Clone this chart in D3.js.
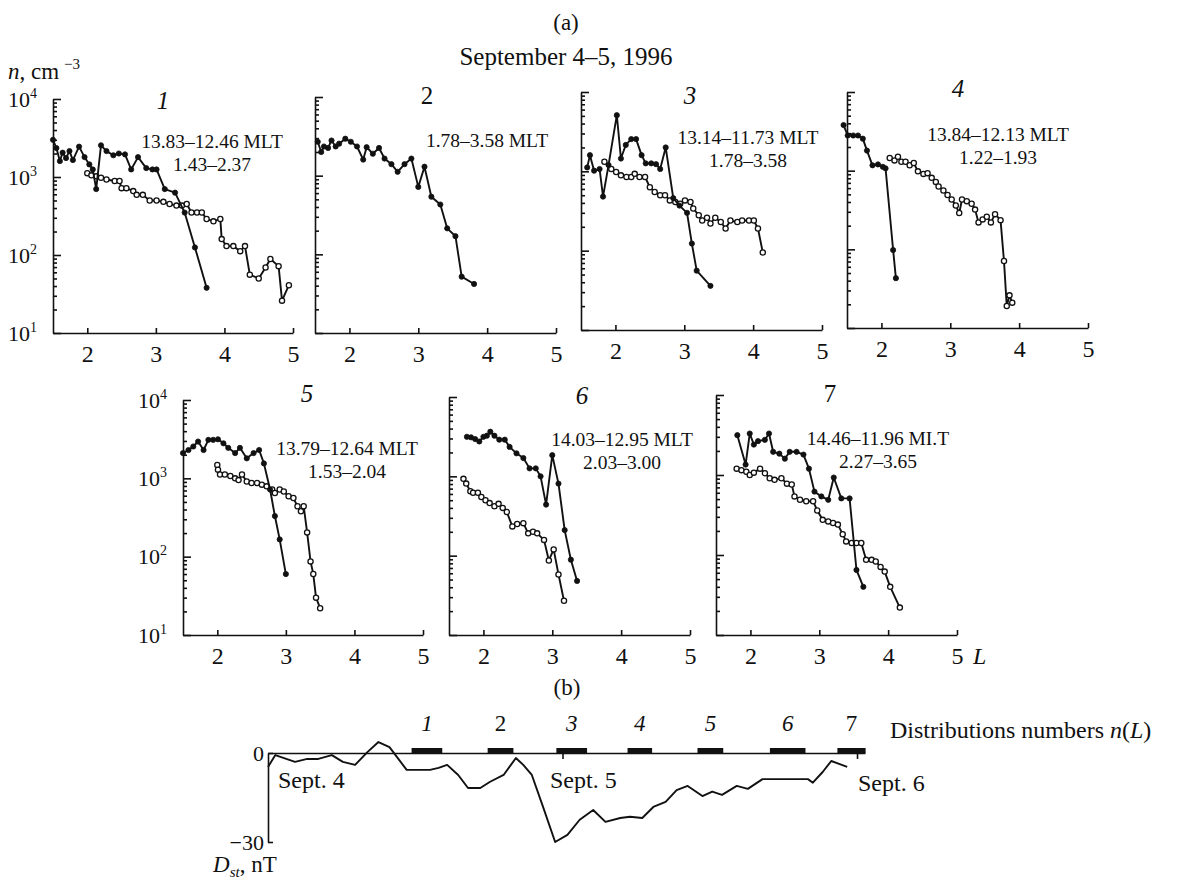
<!DOCTYPE html>
<html>
<head>
<meta charset="utf-8">
<script src="https://cdn.jsdelivr.net/npm/d3@7"></script>
<style>
  body { margin: 0; background: #fff; }
  svg { font-family: "Liberation Serif", "Times New Roman", serif; }
  .axis path, .axis line { stroke: #111; stroke-width: 1.6; }
  .axis text { font-size: 23px; fill: #111; font-family: "Liberation Serif", serif; }
  text { fill: #111; }
</style>
</head>
<body>
<svg id="fig" width="1196" height="888"></svg>
<script>
// ---- data: [L, n (cm^-3)] ----
const p1Filled = [[1.50,3000],[1.55,2350],[1.60,1600],[1.64,2050],[1.69,1750],[1.74,2150],[1.79,1650],[1.88,2450],[1.96,1800],[2.03,1450],[2.08,1250],[2.13,700],[2.20,2550],[2.28,2150],[2.38,1900],[2.46,2000],[2.55,1950],[2.64,1250],[2.74,1800],[2.86,1300],[2.95,1250],[3.01,1250],[3.13,700],[3.28,630],[3.42,350],[3.57,125],[3.74,38]];
const p1Open = [[2.00,1120],[2.06,1050],[2.13,1020],[2.20,980],[2.28,930],[2.40,890],[2.47,890],[2.50,720],[2.57,720],[2.67,660],[2.72,590],[2.81,590],[2.91,500],[3.01,500],[3.11,480],[3.20,450],[3.30,430],[3.38,430],[3.45,450],[3.52,350],[3.60,350],[3.67,350],[3.74,290],[3.84,270],[3.94,290],[3.96,160],[4.03,130],[4.13,130],[4.23,112],[4.30,130],[4.37,56],[4.50,50],[4.60,69],[4.67,89],[4.79,72],[4.84,26],[4.94,41]];
const p2Filled = [[1.54,2700],[1.59,2000],[1.63,2350],[1.69,2250],[1.74,2800],[1.80,2350],[1.85,2550],[1.94,2950],[2.02,2700],[2.11,2350],[2.20,1600],[2.25,2300],[2.34,1900],[2.43,2250],[2.51,1650],[2.61,1400],[2.70,1120],[2.80,1400],[2.90,1650],[3.00,720],[3.09,1300],[3.19,540],[3.32,430],[3.42,214],[3.54,170],[3.63,52],[3.81,42]];
const p3Filled = [[1.59,1120],[1.63,1600],[1.69,1020],[1.77,1070],[1.82,480],[1.90,1200],[2.02,5100],[2.08,1450],[2.15,2150],[2.23,2550],[2.30,2550],[2.38,1600],[2.44,1260],[2.52,1260],[2.59,1230],[2.65,1070],[2.73,2000],[2.84,460],[2.93,370],[3.04,300],[3.11,123],[3.18,56],[3.38,36]];
const p3Open = [[1.84,1320],[1.94,1070],[2.01,980],[2.08,890],[2.16,850],[2.23,850],[2.28,930],[2.35,850],[2.43,850],[2.50,630],[2.57,550],[2.65,500],[2.72,500],[2.79,430],[2.87,410],[2.94,390],[3.01,430],[3.09,410],[3.13,340],[3.21,280],[3.26,240],[3.33,260],[3.38,220],[3.45,260],[3.53,230],[3.60,190],[3.67,240],[3.77,230],[3.84,240],[3.94,240],[4.01,240],[4.07,190],[4.14,95]];
const p4Filled = [[1.45,3800],[1.51,2800],[1.59,2800],[1.66,2800],[1.73,2550],[1.79,1800],[1.87,1170],[1.95,1200],[2.02,1120],[2.06,1070],[2.17,98],[2.21,43]];
const p4Open = [[2.12,1450],[2.19,1350],[2.24,1500],[2.29,1300],[2.35,1300],[2.41,1170],[2.47,1250],[2.53,980],[2.61,910],[2.67,930],[2.73,810],[2.79,720],[2.83,630],[2.90,560],[2.96,490],[3.02,430],[3.08,360],[3.13,290],[3.17,430],[3.24,410],[3.31,380],[3.36,320],[3.41,220],[3.47,240],[3.53,260],[3.59,220],[3.65,280],[3.73,235],[3.78,71],[3.82,19],[3.86,26],[3.90,21]];
const p5Filled = [[1.50,2100],[1.58,2300],[1.65,2550],[1.72,2950],[1.80,2300],[1.87,3100],[1.94,3100],[2.01,3150],[2.09,2800],[2.16,2450],[2.26,2100],[2.33,2450],[2.43,1800],[2.53,2100],[2.61,2300],[2.68,1550],[2.77,720],[2.84,330],[2.91,166],[3.00,60]];
const p5Open = [[2.00,1480],[2.01,1290],[2.04,1120],[2.11,1120],[2.19,1070],[2.26,1000],[2.31,950],[2.36,1120],[2.43,910],[2.50,870],[2.58,870],[2.65,830],[2.72,790],[2.80,720],[2.84,650],[2.91,720],[2.97,680],[3.04,590],[3.11,560],[3.17,440],[3.22,380],[3.26,440],[3.31,204],[3.36,87],[3.40,60],[3.44,30],[3.50,22]];
const p6Filled = [[1.76,3150],[1.82,3100],[1.88,2950],[1.94,2750],[2.00,3150],[2.05,3250],[2.10,3650],[2.16,3250],[2.23,2900],[2.31,2900],[2.38,2350],[2.48,1950],[2.58,1700],[2.67,1260],[2.76,1260],[2.83,1000],[2.91,440],[3.00,1850],[3.09,810],[3.18,210],[3.27,89],[3.36,48]];
const p6Open = [[1.71,930],[1.75,810],[1.81,650],[1.85,620],[1.92,620],[1.97,550],[2.03,500],[2.09,460],[2.16,420],[2.22,450],[2.28,400],[2.34,355],[2.42,234],[2.49,251],[2.58,257],[2.65,191],[2.72,200],[2.78,191],[2.88,158],[2.95,87],[3.02,120],[3.09,58],[3.17,27]];
const p7Filled = [[1.81,3150],[1.93,1350],[1.99,3300],[2.05,2400],[2.11,2650],[2.21,2750],[2.27,3300],[2.33,1950],[2.42,1850],[2.50,1600],[2.57,1950],[2.67,1950],[2.77,1800],[2.85,1200],[2.93,620],[3.03,540],[3.13,490],[3.21,930],[3.32,510],[3.44,510],[3.54,65],[3.64,40]];
const p7Open = [[1.80,1200],[1.87,1150],[1.94,1100],[1.99,1000],[2.05,1070],[2.14,1200],[2.21,1050],[2.28,910],[2.35,870],[2.45,910],[2.53,780],[2.60,760],[2.64,540],[2.72,490],[2.81,470],[2.91,470],[2.97,360],[3.05,275],[3.13,263],[3.20,251],[3.27,240],[3.34,182],[3.39,148],[3.47,141],[3.54,141],[3.61,141],[3.68,87],[3.76,87],[3.82,83],[3.89,71],[3.95,62],[4.03,40],[4.17,22]];

const panelNumbers = ['1','2','3','4','5','6','7'];
const mltLabels = ['13.83–12.46 MLT','1.78–3.58 MLT','13.14–11.73 MLT','13.84–12.13 MLT','13.79–12.64 MLT','14.03–12.95 MLT','14.46–11.96 MI.T'];
const lLabels = ['1.43–2.37','','1.78–3.58','1.22–1.93','1.53–2.04','2.03–3.00','2.27–3.65'];
const xTicks = [2,3,4,5];
const yMajor = [10,100,1000,10000];

// Dst, hours from Sept 4 00 UT, nT
const dst = [[0,-4.7],[0.6,-0.7],[2.2,-3],[3.2,-2],[4.1,-2],[5.2,-0.7],[6.1,-3],[7.1,-4],[8.1,0.3],[9.0,3.7],[9.9,2],[10.5,-1.3],[11.3,-5.7],[13.2,-5.7],[13.9,-5],[14.6,-4],[15.5,-7.4],[16.3,-11.8],[17.3,-11.8],[18.1,-9.7],[19.2,-7.4],[20.2,-1.7],[20.8,-4],[21.5,-7.4],[22.4,-18],[23.4,-30],[24.4,-27.6],[25.4,-22.5],[26.5,-19.2],[27.5,-23.2],[28.7,-21.9],[29.5,-21.5],[30.5,-21.9],[31.4,-18.2],[32.4,-16.5],[33.3,-12.5],[34.2,-11.1],[35.4,-14.5],[36.2,-13],[37.0,-14.1],[38.2,-11.1],[39.1,-12.1],[40.3,-8.8],[44.0,-8.8],[44.4,-10],[45.2,-6.4],[45.9,-2.7],[47.2,-4.7]];
const intervals = [[11.7,14.2],[17.9,20.0],[23.5,26.0],[29.3,31.3],[35.0,37.1],[40.9,43.8],[46.4,48.7]];
const dayTicks = [24,48];
const dstTicks = [0,-30];

const filledSets = [p1Filled,p2Filled,p3Filled,p4Filled,p5Filled,p6Filled,p7Filled];
const openSets = [p1Open,null,p3Open,p4Open,p5Open,p6Open,p7Open];

// ---- layout ----
const layout = [
  {left:53,  right:293,  top:99,  bottom:333, yLabels:true,  num:[163,100], note:[212,141], upright:false},
  {left:315, right:556,  top:97,  bottom:333, yLabels:false, num:[427,95],  note:[487,140], upright:true},
  {left:581, right:822,  top:92,  bottom:330, yLabels:false, num:[690,95],  note:[748,137], upright:false},
  {left:847, right:1088, top:92,  bottom:328, yLabels:false, num:[958,88],  note:[998,134], upright:false},
  {left:183, right:423,  top:400, bottom:635, yLabels:true,  num:[307,393], note:[347,448], upright:false},
  {left:449, right:690,  top:397, bottom:635, yLabels:false, num:[582,395], note:[622,439], upright:false},
  {left:716, right:957,  top:395, bottom:635, yLabels:false, num:[830,393], note:[878,438], upright:true, lLabel:true}
];

const svg = d3.select('#fig');
const ink = '#111';

const yMinor = [];
[10,100,1000].forEach(dec => { for (let k = 2; k <= 9; k++) yMinor.push(dec * k); });

svg.append('text').attr('x', 566).attr('y', 22).attr('text-anchor','middle')
  .attr('dominant-baseline','central').style('font-size','23px').text('(a)');
svg.append('text').attr('x', 566).attr('y', 56).attr('text-anchor','middle')
  .attr('dominant-baseline','central').style('font-size','25px').text('September 4–5, 1996');

const unit = svg.append('text').attr('x', 8).attr('y', 79).style('font-size','23px');
unit.append('tspan').style('font-style','italic').text('n');
unit.append('tspan').text(', cm');
unit.append('tspan').attr('dx', 5).attr('dy', -10).style('font-size','15px').text('−3');

layout.forEach((lay, i) => {
  const x = d3.scaleLinear().domain([1.5, 5]).range([lay.left, lay.right]);
  const y = d3.scaleLog().domain([10, 10000]).range([lay.bottom, lay.top]);
  const g = svg.append('g');

  g.append('g').attr('class','axis').attr('transform', `translate(${lay.left},0)`)
    .call(d3.axisLeft(y).tickValues(yMinor).tickSizeInner(-4).tickSizeOuter(0).tickFormat(''))
    .call(a => a.select('.domain').remove());

  const yAx = g.append('g').attr('class','axis').attr('transform', `translate(${lay.left},0)`)
    .call(d3.axisLeft(y).tickValues(yMajor).tickSizeInner(-8).tickSizeOuter(0).tickPadding(4));
  yAx.selectAll('text').each(function(d) {
    const t = d3.select(this).text('');
    if (!lay.yLabels) return;
    t.attr('dx', -12).style('font-size','22px');
    t.append('tspan').text('10');
    t.append('tspan').attr('dy', -9).style('font-size','14px').text(Math.round(Math.log10(d)));
  });

  const xAx = g.append('g').attr('class','axis').attr('transform', `translate(0,${lay.bottom})`)
    .call(d3.axisBottom(x).tickValues(xTicks).tickSizeInner(-5).tickSizeOuter(0).tickPadding(12)
      .tickFormat(d3.format('d')));
  xAx.selectAll('text').style('font-size','24px');
  if (lay.lLabel) {
    g.append('text').attr('x', x(5) + 16).attr('y', lay.bottom + 12).attr('dy','0.71em')
      .style('font-size','24px').style('font-style','italic').text('L');
  }

  const line = d3.line().x(d => x(d[0])).y(d => y(d[1]));
  const draw = (data, open) => {
    if (!data) return;
    g.append('path').datum(data).attr('d', line)
      .attr('fill','none').attr('stroke', ink).attr('stroke-width', 1.9).attr('stroke-linejoin','round');
    g.selectAll(null).data(data).enter().append('circle')
      .attr('cx', d => x(d[0])).attr('cy', d => y(d[1])).attr('r', 2.6)
      .attr('fill', open ? '#fff' : ink).attr('stroke', ink).attr('stroke-width', open ? 1.3 : 0.8);
  };
  draw(openSets[i], true);
  draw(filledSets[i], false);

  g.append('text').attr('x', lay.num[0]).attr('y', lay.num[1]).attr('text-anchor','middle')
    .attr('dominant-baseline','central').style('font-size','25px')
    .style('font-style', lay.upright ? 'normal' : 'italic').text(panelNumbers[i]);
  g.append('text').attr('x', lay.note[0]).attr('y', lay.note[1]).attr('text-anchor','middle')
    .attr('dominant-baseline','central').style('font-size','19.5px').text(mltLabels[i]);
  if (lLabels[i]) {
    g.append('text').attr('x', lay.note[0]).attr('y', lay.note[1] + 23).attr('text-anchor','middle')
      .attr('dominant-baseline','central').style('font-size','19.5px').text(lLabels[i]);
  }
});

// ---- (b) Dst ----
const dx = d3.scaleLinear().domain([0, 48.65]).range([268, 865]);
const dy = d3.scaleLinear().domain([-30, 0]).range([842, 753]);
const b = svg.append('g');

b.append('text').attr('x', 567).attr('y', 687).attr('text-anchor','middle')
  .attr('dominant-baseline','central').style('font-size','23px').text('(b)');

b.append('g').attr('class','axis').attr('transform', `translate(0,${dy(0)})`)
  .call(d3.axisBottom(dx).tickValues(dayTicks).tickSizeInner(6).tickSizeOuter(0).tickFormat(''));
b.append('g').attr('class','axis').attr('transform', `translate(${dx(0)},0)`)
  .call(d3.axisLeft(dy).tickValues(dstTicks).tickSizeInner(-5).tickSizeOuter(0).tickPadding(4)
    .tickFormat(d => d === 0 ? '0' : '−30'))
  .call(a => a.selectAll('text').style('font-size','22px'));

b.selectAll(null).data(intervals).enter().append('rect')
  .attr('x', d => dx(d[0])).attr('width', d => dx(d[1]) - dx(d[0]))
  .attr('y', dy(0) - 5).attr('height', 5).attr('fill', ink);
b.selectAll(null).data(intervals).enter().append('text')
  .attr('x', d => dx((d[0] + d[1]) / 2)).attr('y', 723).attr('text-anchor','middle')
  .attr('dominant-baseline','central').style('font-size','23px')
  .style('font-style', (d, i) => (i === 1 || i === 6) ? 'normal' : 'italic')
  .text((d, i) => panelNumbers[i]);

b.append('path').datum(dst)
  .attr('d', d3.line().x(d => dx(d[0])).y(d => dy(d[1])))
  .attr('fill','none').attr('stroke', ink).attr('stroke-width', 1.9).attr('stroke-linejoin','round');

const legend = b.append('text').attr('x', 890).attr('y', 730).attr('dominant-baseline','central').style('font-size','24px');
legend.append('tspan').text('Distributions numbers ');
legend.append('tspan').style('font-style','italic').text('n');
legend.append('tspan').text('(');
legend.append('tspan').style('font-style','italic').text('L');
legend.append('tspan').text(')');

[['Sept. 4', 278, 780], ['Sept. 5', 550, 780], ['Sept. 6', 858, 783]].forEach(s => {
  b.append('text').attr('x', s[1]).attr('y', s[2]).attr('dominant-baseline','central')
    .style('font-size','24px').text(s[0]);
});

const dl = b.append('text').attr('x', 213).attr('y', 872).style('font-size','23px');
dl.append('tspan').style('font-style','italic').text('D');
dl.append('tspan').attr('dy', 5).style('font-size','15px').style('font-style','italic').text('st');
dl.append('tspan').attr('dy', -5).text(', nT');
</script>
</body>
</html>
